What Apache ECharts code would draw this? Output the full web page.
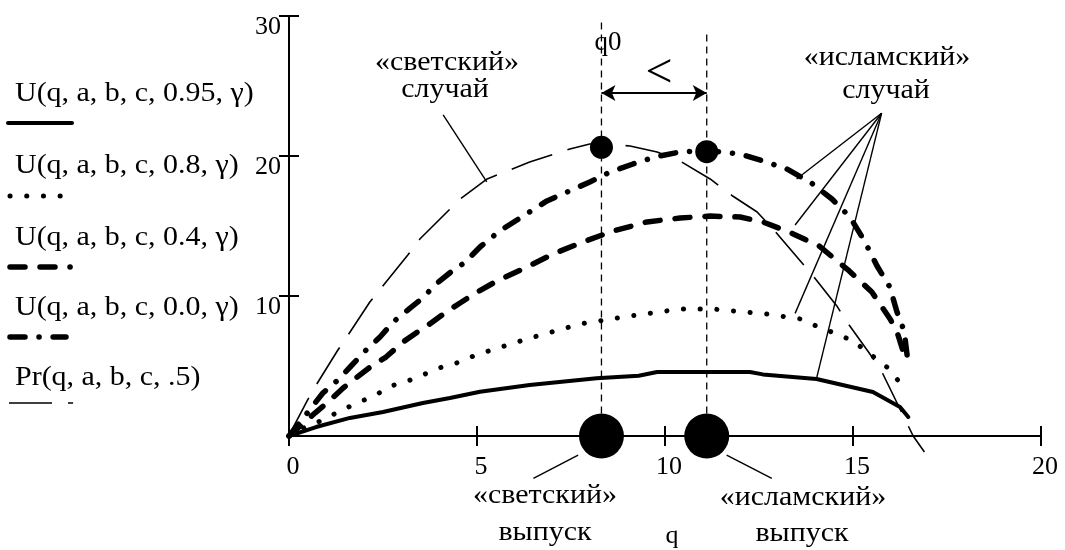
<!DOCTYPE html>
<html>
<head>
<meta charset="utf-8">
<script src="https://cdn.jsdelivr.net/npm/echarts@6/dist/echarts.min.js"></script>
<style>
  html, body { margin: 0; padding: 0; background: #ffffff; }
  #chart { width: 1065px; height: 550px; }
</style>
</head>
<body>
<div id="chart"></div>
<script>
// ---- axis ticks ----
const xTicks = [0, 5, 10, 15, 20];
const yTicks = [0, 10, 20, 30];

// ---- utility U(q,a,b,c,θ,γ) for θ = 0.95, 0.8, 0.4, 0.0 and profit Pr(q,a,b,c,.5), as [q, value] ----
const u095 = [[0,0],[0.72,0.64],[1.62,1.29],[2.5,1.71],[3.56,2.36],[4.28,2.71],[5.08,3.16],[6.4,3.64],[8.18,4.12],[9.3,4.3],[9.79,4.57],[12.26,4.57],[12.6,4.4],[14.03,4.07],[15.53,3.14],[16.25,2.07],[16.47,1.36]];
const u08 = [[0,0],[0.43,0.64],[0.9,1.14],[1.36,1.79],[1.81,2.36],[2.26,2.86],[2.71,3.57],[3.16,3.93],[3.62,4.43],[4.07,4.93],[4.55,5.29],[4.97,5.79],[6.33,6.93],[7.74,8.0],[9.07,8.57],[10.4,9.07],[11.28,9.07],[12.7,8.71],[13.6,8.36],[14.08,7.79],[14.57,7.29],[15.0,6.79],[15.45,5.86],[15.9,4.93],[16.3,3.64]];
const u04 = [[0,0],[0.69,1.64],[1.04,2.43],[1.44,3.43],[1.78,4.14],[2.23,5.07],[2.58,5.64],[3.03,6.71],[3.38,7.36],[3.78,8.07],[4.18,8.86],[4.55,9.5],[4.95,10.2],[5.53,11.07],[6.33,12.07],[7.02,13.0],[7.82,13.86],[8.62,14.64],[9.52,15.29],[10.4,15.57],[11.2,15.71],[12.0,15.64],[12.6,15.29],[13.3,14.57],[14.1,13.57],[14.9,11.79],[15.5,10.29],[16.0,8.3],[16.2,7.2],[16.42,5.3]];
const u00 = [[0,0],[0.55,1.86],[0.9,3.07],[1.3,4.0],[1.65,5.0],[2.05,6.14],[2.42,7.07],[2.77,8.14],[3.22,9.14],[3.56,9.86],[3.88,10.79],[4.3,11.7],[4.68,12.4],[5.08,13.5],[5.6,14.64],[6.86,16.79],[7.4,17.43],[8.0,18.14],[8.54,18.86],[9.15,19.43],[9.73,19.93],[10.4,20.29],[11.1,20.4],[12.0,20.14],[12.7,19.57],[13.24,19.07],[13.86,18.14],[14.44,16.93],[14.92,15.64],[15.32,13.86],[15.64,12.14],[15.98,10.64],[16.17,8.86],[16.36,7.5],[16.46,5.3]];
const pr = [[0,0],[0.03,0.2],[0.5,2.6],[0.69,3.5],[1.3,6.14],[1.52,7.0],[2.15,9.57],[2.45,10.57],[3.16,12.93],[3.48,14.07],[4.55,16.93],[5.27,18.36],[6.4,19.57],[7.47,20.5],[8.0,20.86],[8.32,20.9],[9.07,20.71],[9.79,20.29],[10.4,19.64],[11.2,18.36],[11.8,17.14],[12.45,16.0],[12.87,14.79],[13.6,12.5],[13.94,11.43],[14.57,9.29],[14.84,8.14],[15.45,5.86],[15.77,4.57],[16.25,1.93],[16.6,0],[16.9,-1.14]];

// ---- optimum points: "светский" (secular) and "исламский" (islamic) ----
const optimumQ = [8.31, 11.11];
const optimumPeak = [[8.31, 20.62], [11.11, 20.31]];
const releaseDots = [[8.31, 0], [11.11, 0]];
const guideTop = [29.9, 28.8];
const guideBottom = 1.6;
const arrowY = 24.5;

// ---- leader lines from captions to curves ----
const leaderSecularTop = [[4.10, 22.93], [5.26, 18.16]];
const leaderIslamicApex = [15.76, 23.05];
const leaderIslamicEnds = [[13.50, 18.36], [13.46, 15.07], [13.46, 8.76], [14.03, 4.12]];
const leaderSecularRelease = [[6.50, -3.02], [7.69, -1.36]];
const leaderIslamicRelease = [[11.64, -1.36], [12.84, -3.02]];

// ---- texts ----
const legendLabels = ['U(q, a, b, c, 0.95, γ)', 'U(q, a, b, c, 0.8, γ)', 'U(q, a, b, c, 0.4, γ)', 'U(q, a, b, c, 0.0, γ)', 'Pr(q, a, b, c, .5)'];
const captionSecular = ['«светский»', 'случай'];
const captionIslamic = ['«исламский»', 'случай'];
const captionSecularRelease = ['«светский»', 'выпуск'];
const captionIslamicRelease = ['«исламский»', 'выпуск'];

const FONT = '"Liberation Serif", "Times New Roman", serif';
const INK = '#000000';

// line styles shared by the curves and their legend samples
const styles = [
  { lineWidth: 4, lineDash: null, lineCap: 'round' },
  { lineWidth: 5, lineDash: [0.1, 16.6], lineCap: 'round' },
  { lineWidth: 5.5, lineDash: [15, 15], lineCap: 'round' },
  { lineWidth: 5.5, lineDash: [15, 14, 0.1, 14], lineCap: 'round' },
  { lineWidth: 1.6, lineDash: [43, 16], lineCap: 'butt' }
];
const curves = [u095, u08, u04, u00, pr];

function curveSeries(data, st, i) {
  return {
    type: 'line', name: legendLabels[i], data: data, symbol: 'none', clip: false, silent: true,
    lineStyle: { color: INK, width: st.lineWidth, type: st.lineDash || 'solid', cap: st.lineCap, join: 'round', opacity: 1 },
    z: 3
  };
}
function plainLine(data, width, type) {
  return {
    type: 'line', data: data, symbol: 'none', clip: false, silent: true,
    lineStyle: { color: INK, width: width, type: type || 'solid', opacity: 1 }, z: 2
  };
}

const series = curves.map((d, i) => curveSeries(d, styles[i], i));

// vertical guides at the two optima
optimumQ.forEach((q, i) => series.push(plainLine([[q, guideBottom], [q, guideTop[i]]], 1.3, [7, 5])));

// leader lines
series.push(plainLine(leaderSecularTop, 1.4));
leaderIslamicEnds.forEach(p => series.push(plainLine([leaderIslamicApex, p], 1.4)));
series.push(plainLine(leaderSecularRelease, 1.4));
series.push(plainLine(leaderIslamicRelease, 1.4));

// double-headed arrow between the optima
series.push({
  type: 'line', data: [], silent: true,
  markLine: {
    silent: true, symbol: ['arrow', 'arrow'], symbolSize: [12, 14],
    label: { show: false },
    lineStyle: { color: INK, width: 2, type: 'solid', opacity: 1 },
    itemStyle: { color: INK, opacity: 1 },
    data: [[{ coord: [optimumQ[0], arrowY] }, { coord: [optimumQ[1], arrowY] }]]
  }
});

// peak markers and release markers
series.push({ type: 'scatter', data: optimumPeak, symbolSize: 23, itemStyle: { color: INK, opacity: 1 }, silent: true, z: 5 });
series.push({ type: 'scatter', data: releaseDots, symbolSize: 45, itemStyle: { color: INK, opacity: 1 }, silent: true, z: 5, clip: false });

const axisCommon = { min: xTicks[0], max: xTicks[xTicks.length - 1], interval: xTicks[1] - xTicks[0] };
const yCommon = { min: yTicks[0], max: yTicks[yTicks.length - 1], interval: yTicks[1] - yTicks[0] };

const chart = echarts.init(document.getElementById('chart'), null, { renderer: 'canvas' });

// text helper: place by horizontal anchor and alphabetic baseline, slightly widened
const WIDE = 1.07;
function text(str, x, baseline, size, align, sx) {
  const y = baseline - 0.34 * size;
  return {
    type: 'text', silent: true, z: 10,
    x: x, y: y, scaleX: sx || WIDE,
    style: {
      text: str, x: 0, y: 0,
      font: size + 'px ' + FONT, fill: INK,
      align: align || 'center', verticalAlign: 'middle'
    }
  };
}

const graphics = [];
// legend block on the left
const legendBaselines = [103, 175, 247, 317, 387];
const sampleY = [123, 196, 267, 337, 403];
const sampleX = [[8, 72], [10, 61], [10, 70.1], [10, 66], [9, 73.1]];
legendLabels.forEach((lab, i) => {
  graphics.push(text(lab, 15, legendBaselines[i], 28, 'left'));
  const st = styles[i];
  graphics.push({
    type: 'line', silent: true, z: 10,
    shape: { x1: sampleX[i][0], y1: sampleY[i], x2: sampleX[i][1], y2: sampleY[i] },
    style: { stroke: INK, lineWidth: st.lineWidth, lineDash: st.lineDash, lineCap: st.lineCap }
  });
});

// captions
graphics.push(text(captionSecular[0], 447, 72, 28));
graphics.push(text(captionSecular[1], 445, 99, 28));
graphics.push(text(captionIslamic[0], 887, 67, 28));
graphics.push(text(captionIslamic[1], 886, 100, 28));
graphics.push(text('q0', 608, 52, 27, 'center', 1));
graphics.push(text('<', 659, 91, 48, 'center', 1));
graphics.push(text(captionSecularRelease[0], 545, 505, 28));
graphics.push(text(captionSecularRelease[1], 545, 542, 28));
graphics.push(text(captionIslamicRelease[0], 803, 507, 28));
graphics.push(text(captionIslamicRelease[1], 802, 543, 28));

const tickFont = { fontFamily: FONT, fontSize: 26, color: INK };

chart.setOption({
  animation: false,
  backgroundColor: '#ffffff',
  grid: { left: 289, right: 24, top: 16, bottom: 114, containLabel: false, outerBoundsMode: 'none' },
  xAxis: [
    Object.assign({
      type: 'value', position: 'bottom',
      name: 'q', nameLocation: 'middle', nameGap: 87,
      nameTextStyle: Object.assign({ padding: [0, 0, 0, 14] }, tickFont),
      axisLine: { show: true, onZero: false, lineStyle: { color: INK, width: 2 } },
      axisTick: { show: true, inside: false, length: 10, lineStyle: { color: INK, width: 2 } },
      axisLabel: Object.assign({ margin: 18, padding: [0, 0, 0, 8] }, tickFont),
      splitLine: { show: false }
    }, axisCommon),
    Object.assign({
      type: 'value', position: 'bottom',
      axisLine: { show: false, onZero: false },
      axisTick: { show: true, inside: true, length: 10, lineStyle: { color: INK, width: 2 } },
      axisLabel: { show: false },
      splitLine: { show: false }
    }, axisCommon)
  ],
  yAxis: [
    Object.assign({
      type: 'value', position: 'left',
      axisLine: { show: true, onZero: false, lineStyle: { color: INK, width: 2 } },
      axisTick: { show: true, inside: false, length: 10, lineStyle: { color: INK, width: 2 } },
      axisLabel: Object.assign({ margin: 8, showMinLabel: false, verticalAlign: 'top', lineHeight: 23 }, tickFont),
      splitLine: { show: false }
    }, yCommon),
    Object.assign({
      type: 'value', position: 'left',
      axisLine: { show: false, onZero: false },
      axisTick: { show: true, inside: true, length: 10, lineStyle: { color: INK, width: 2 } },
      axisLabel: { show: false },
      splitLine: { show: false }
    }, yCommon)
  ],
  series: series,
  graphic: graphics
});
</script>
</body>
</html>
